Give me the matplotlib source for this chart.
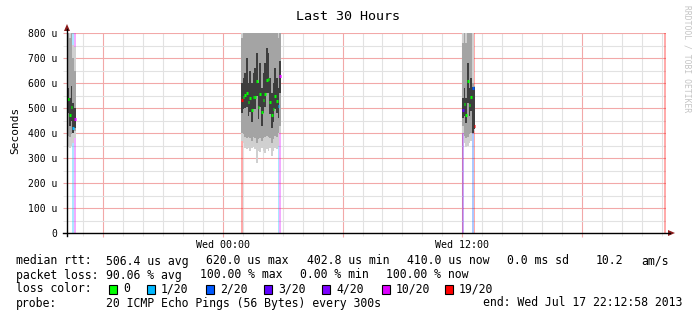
import numpy as np
import matplotlib
matplotlib.use('Agg')
import matplotlib.pyplot as plt
from matplotlib.patches import Rectangle, Polygon
from matplotlib.lines import Line2D
from matplotlib.ticker import MultipleLocator, FixedLocator, FuncFormatter

# ---------------- data (time in hours relative to Wed 00:00, values in microseconds) ---------------
bin_hours = 1.0 / 12.0          # 5 minute steps
x_start, x_end = -7.8, 22.2     # last 30 hours

# region 1 (Tue afternoon)
r1_start = -7.78
r1_median = [536, 472, 505, 420, 456]
r1_loss = [0, 0, 0, 1, 10]
r1_lo = [345, 340, 350, 360, 380]
r1_p10 = [390, 385, 395, 400, 410]
r1_q1 = [480, 430, 450, 400, 420]
r1_q3 = [580, 540, 590, 520, 500]
r1_p90 = [800, 780, 820, 700, 650]
r1_hi = [900, 900, 900, 752, 745]

# region 2 (Wed early morning)
r2_start = 0.92
r2_median = [532, 545, 552, 559, 523, 539, 492, 545, 545, 608, 505, 556,
             483, 532, 556, 612, 615, 525, 472, 496, 549, 530, 509, 628]
r2_loss = [19, 0, 0, 0, 0, 0, 0, 0, 0, 0, 0, 0,
           0, 0, 0, 0, 0, 0, 0, 0, 0, 0, 1, 10]
r2_lo = [370, 360, 340, 335, 340, 330, 340, 345, 335, 280, 330, 325,
         340, 330, 320, 335, 330, 340, 310, 330, 340, 335, 350, 400]
r2_p10 = [400, 395, 385, 380, 385, 380, 370, 385, 380, 360, 375, 380,
          370, 380, 385, 390, 385, 380, 360, 375, 390, 385, 400, 430]
r2_q1 = [480, 495, 500, 505, 470, 485, 445, 495, 495, 550, 455, 505,
         430, 480, 505, 560, 560, 475, 420, 445, 495, 480, 460, 560]
r2_q3 = [600, 620, 640, 700, 600, 650, 600, 640, 660, 720, 600, 680,
         580, 640, 680, 740, 720, 620, 560, 600, 660, 620, 580, 690]
r2_p90 = [780, 800, 820, 840, 800, 830, 810, 840, 850, 860, 820, 850,
          800, 840, 850, 860, 860, 830, 800, 820, 850, 820, 780, 820]
r2_hi = [900, 900, 900, 900, 900, 900, 900, 900, 900, 900, 900, 900,
         900, 900, 900, 900, 900, 900, 900, 900, 900, 900, 900, 900]

# region 3 (Wed noon)
r3_start = 11.98
r3_median = [492, 516, 472, 610, 512, 545, 581, 429]
r3_loss = [3, 0, 0, 0, 0, 0, 2, 19]
r3_lo = [400, 360, 345, 350, 360, 370, 400, 410]
r3_p10 = [430, 390, 380, 385, 395, 400, 410, 415]
r3_q1 = [460, 470, 440, 520, 470, 490, 400, 415]
r3_q3 = [540, 580, 540, 680, 580, 620, 585, 585]
r3_p90 = [760, 800, 760, 840, 800, 820, 600, 590]
r3_hi = [860, 900, 900, 900, 900, 900, 800, 590]

# last bin (high loss, no rtt)
edge_start = 22.117
edge_loss = 19

loss_levels = [0, 1, 2, 3, 4, 10, 19]
loss_labels = ['0', '1/20', '2/20', '3/20', '4/20', '10/20', '19/20']
loss_colors = ['#00ff00', '#00b8ff', '#0059ff', '#5e00ff', '#7e00ff', '#dd00ff', '#ff0000']

y_ticks = [0, 100, 200, 300, 400, 500, 600, 700, 800]
y_tick_labels = ['0', '100 u', '200 u', '300 u', '400 u', '500 u', '600 u', '700 u', '800 u']
x_label_pos = [0, 12]
x_tick_labels = ['Wed 00:00', 'Wed 12:00']

title = 'Last 30 Hours'
legend_rows = [
    [('median rtt:', 16), ('506.4 us avg', 106), ('620.0 us max', 206), ('402.8 us min', 307),
     ('410.0 us now', 407), ('0.0 ms sd', 507), ('10.2', 596), ('am/s', 641)],
    [('packet loss:', 16), ('90.06 % avg', 106), ('100.00 % max', 200), ('0.00 % min', 300),
     ('100.00 % now', 386)],
    [('loss color:', 16)],
    [('probe:', 16), ('20 ICMP Echo Pings (56 Bytes) every 300s', 106)],
]
end_text = 'end: Wed Jul 17 22:12:58 2013'
watermark = 'RRDTOOL / TOBI OETIKER'

# ---------------- figure ---------------
W, H = 697, 321
plt.rcParams['font.family'] = ['DejaVu Sans Mono', 'DejaVu Sans']
fig = plt.figure(figsize=(W / 100, H / 100), dpi=100)
fig.patch.set_facecolor('white')

def fx(px):
    return px / W

def fy(py):
    return 1 - py / H

L, R, T, B = 67, 666, 33, 233
ax = fig.add_axes([fx(L), fy(B), fx(R) - fx(L), fy(T) - fy(B)])
ax.set_xlim(x_start, x_end)
ax.set_ylim(0, 800)
ax.set_facecolor('white')

cmap = dict(zip(loss_levels, loss_colors))

regions = [
    (r1_start, r1_median, r1_loss, r1_lo, r1_p10, r1_q1, r1_q3, r1_p90, r1_hi),
    (r2_start, r2_median, r2_loss, r2_lo, r2_p10, r2_q1, r2_q3, r2_p90, r2_hi),
    (r3_start, r3_median, r3_loss, r3_lo, r3_p10, r3_q1, r3_q3, r3_p90, r3_hi),
]

for start, med, loss, lo, p10, q1, q3, p90, hi in regions:
    n = len(med)
    t = start + np.arange(n) * bin_hours
    lo, p10, q1, q3, p90, hi = map(np.array, (lo, p10, q1, q3, p90, hi))
    # loss background bars
    for ti, ls in zip(t, loss):
        if ls > 0:
            ax.axvspan(ti, ti + bin_hours, color=cmap[ls], alpha=0.33, lw=0, zorder=1)
    # smoke
    ax.bar(t, hi - lo, bottom=lo, width=bin_hours, align='edge', color='#d0d0d0', lw=0, zorder=2)
    ax.bar(t, p90 - p10, bottom=p10, width=bin_hours, align='edge', color='#a4a4a4', lw=0, zorder=3)
    ax.bar(t, q3 - q1, bottom=q1, width=bin_hours, align='edge', color='#3e3e3e', lw=0, zorder=4)
    # median
    for ti, m, ls in zip(t, med, loss):
        ax.hlines(m, ti, ti + bin_hours, color=cmap[ls], lw=2.2, zorder=6)

ax.axvspan(edge_start, edge_start + bin_hours, color=cmap[edge_loss], alpha=0.33, lw=0, zorder=1)

# grid
ax.yaxis.set_major_locator(FixedLocator(y_ticks))
ax.yaxis.set_minor_locator(MultipleLocator(50))
ax.set_yticklabels(y_tick_labels)
ax.xaxis.set_major_locator(MultipleLocator(6))
ax.xaxis.set_minor_locator(MultipleLocator(1))
lab = dict(zip(x_label_pos, x_tick_labels))
ax.xaxis.set_major_formatter(FuncFormatter(lambda v, p: lab.get(int(round(v)), '')))
ax.grid(which='major', color='#f2a8a8', lw=0.8, zorder=0)
ax.grid(which='minor', color='#e2e2e2', lw=0.8, zorder=0)
ax.set_axisbelow(True)

ax.tick_params(axis='y', which='major', length=3, color='#f2a8a8', pad=4, labelsize=7, labelcolor='#000000')
ax.tick_params(axis='y', which='minor', length=3, color='#e2e2e2')
ax.tick_params(axis='x', which='major', length=3, color='#f2a8a8', pad=2, labelsize=7.2)
ax.tick_params(axis='x', which='minor', length=2, color='#e2e2e2')

for s in ax.spines.values():
    s.set_visible(False)

# axes lines with arrows
fig.add_artist(Line2D([fx(63), fx(670)], [fy(B), fy(B)], color='black', lw=1.0))
fig.add_artist(Line2D([fx(L), fx(L)], [fy(236), fy(29)], color='black', lw=1.0))
fig.add_artist(Polygon([[fx(668), fy(230)], [fx(675), fy(233)], [fx(668), fy(236)]],
                       closed=True, color='#8b1a1a', lw=0))
fig.add_artist(Polygon([[fx(64), fy(31)], [fx(67), fy(24)], [fx(70), fy(31)]],
                       closed=True, color='#8b1a1a', lw=0))

# texts
fig.text(fx(348), fy(16), title, ha='center', va='center', fontsize=9.6)
fig.text(fx(15), fy(130), 'Seconds', rotation=90, ha='center', va='center', fontsize=8)
fig.text(fx(687), fy(5), watermark, rotation=270, ha='center', va='top', fontsize=5.8, color='#c4c4c4')

row_y = [261, 275, 289, 303]
for row, yy in zip(legend_rows, row_y):
    for txt, xx in row:
        fig.text(fx(xx), fy(yy), txt, ha='left', va='center', fontsize=8.3)
fig.text(fx(682), fy(row_y[3]), end_text, ha='right', va='center', fontsize=8.3)

box_x = [109, 147, 206, 264, 322, 382, 445]
for bx, c, lbl in zip(box_x, loss_colors, loss_labels):
    fig.add_artist(Rectangle((fx(bx), fy(row_y[2] + 4.5)), 8 / W, 9 / H, facecolor=c,
                             edgecolor='black', lw=0.8))
    fig.text(fx(bx + 14), fy(row_y[2]), lbl, ha='left', va='center', fontsize=8.3)

fig.savefig('out.png', dpi=100, facecolor='white')
